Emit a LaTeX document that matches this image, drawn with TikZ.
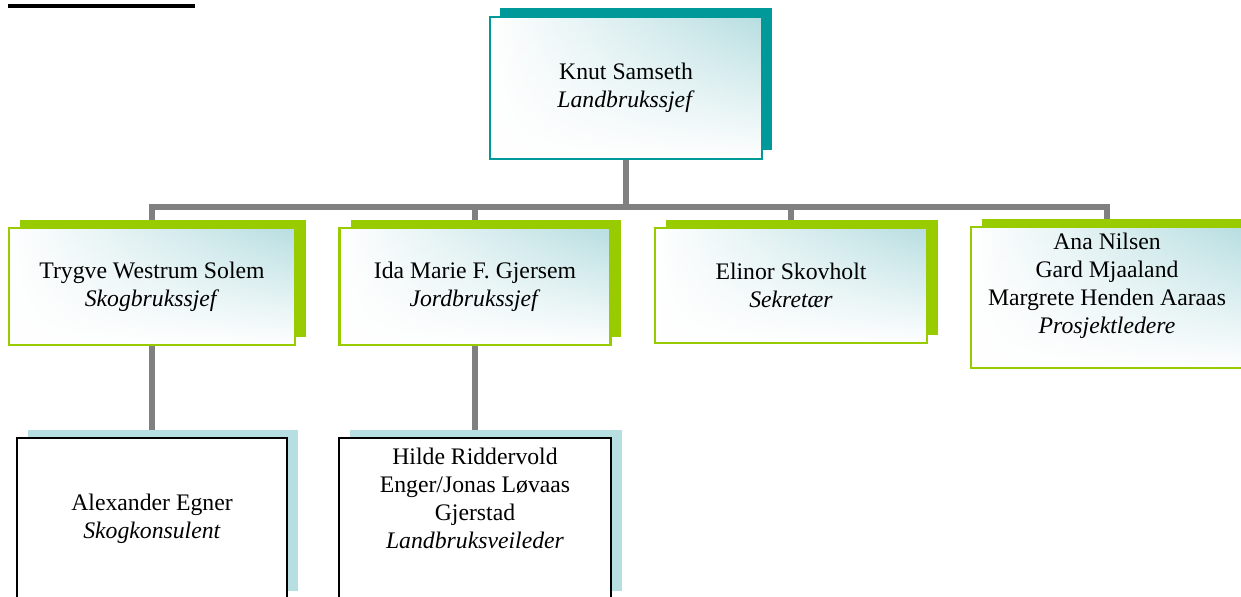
\documentclass[tikz,border=0pt]{standalone}
\usepackage{fontspec}
\setmainfont{Liberation Serif}
\usetikzlibrary{shadows,fadings,backgrounds}

\definecolor{tealc}{HTML}{009999}
\definecolor{leafc}{HTML}{99CC00}
\definecolor{iceblue}{HTML}{B7DEE1}
\definecolor{linkgray}{HTML}{808080}

\tikzfading[name=whiten, top color=transparent!100, middle color=transparent!80,
  bottom color=transparent!0]

\tikzset{
  person/.style={align=center, inner sep=0pt,
    font=\fontsize{13.5}{15.9}\selectfont},
  glowbox/.style={person, left color=white, right color=iceblue,
    postaction={fill=white, path fading=whiten},
    postaction={draw=#1, line width=1.2pt}},
  chiefbox/.style={glowbox=tealc,
    drop shadow={shadow xshift=0.2cm, shadow yshift=0.18cm, fill=tealc, opacity=1}},
  headbox/.style={glowbox=leafc,
    drop shadow={shadow xshift=0.22cm, shadow yshift=0.16cm, fill=leafc, opacity=1}},
  staffbox/.style={person, draw=black, fill=white, line width=1.3pt,
    drop shadow={shadow xshift=0.22cm, shadow yshift=0.16cm, fill=iceblue, opacity=1}},
  link/.style={draw=linkgray, line width=0.12cm}
}

\begin{document}
\begin{tikzpicture}[x=0.02cm, y=-0.02cm]
  \useasboundingbox (0,0) rectangle (1241,597);
  \clip (0,0) rectangle (1241,597);

  % heading rule (text cut off above)
  \draw[line width=0.08cm] (8,6) -- (195,6);

  \node[chiefbox, minimum width=5.44cm, minimum height=2.84cm] (knut) at (626,88)
    {Knut Samseth\\\textit{Landbrukssjef}};

  \node[headbox, minimum width=5.72cm, minimum height=2.34cm] (trygve) at (152,286.5)
    {Trygve Westrum Solem\\\textit{Skogbrukssjef}};
  \node[headbox, minimum width=5.42cm, minimum height=2.34cm] (ida) at (475,286.5)
    {Ida Marie F. Gjersem\\\textit{Jordbrukssjef}};
  \node[headbox, minimum width=5.44cm, minimum height=2.30cm] (elinor) at (791,285.5)
    {Elinor Skovholt\\\textit{Sekretær}};
  \node[headbox, minimum width=5.44cm, minimum height=2.82cm] (ana) at (1107,297.5)
    {Ana Nilsen\\Gard Mjaaland\\Margrete Henden Aaraas\\\textit{Prosjektledere}\\\mbox{}};

  \node[staffbox, minimum width=5.40cm, minimum height=3.22cm] (alex) at (152,518.5)
    {Alexander Egner\\\textit{Skogkonsulent}};
  \node[staffbox, minimum width=5.44cm, minimum height=3.22cm] (hilde) at (475,518.5)
    {Hilde Riddervold\\Enger/Jonas Løvaas\\Gjerstad\\\textit{Landbruksveileder}\\[7pt]\mbox{}};

  \coordinate (bus) at (626,207);

  \begin{scope}[on background layer]
    \draw[link] (knut.south) -- (bus);
    \draw[link] (trygve.north) |- (bus) -| (ana.north);
    \draw[link] (ida.north) -- (ida.north |- bus);
    \draw[link] (elinor.north) -- (elinor.north |- bus);
    \draw[link] (trygve.south) -- (alex.north);
    \draw[link] (ida.south) -- (hilde.north);
  \end{scope}
\end{tikzpicture}
\end{document}
